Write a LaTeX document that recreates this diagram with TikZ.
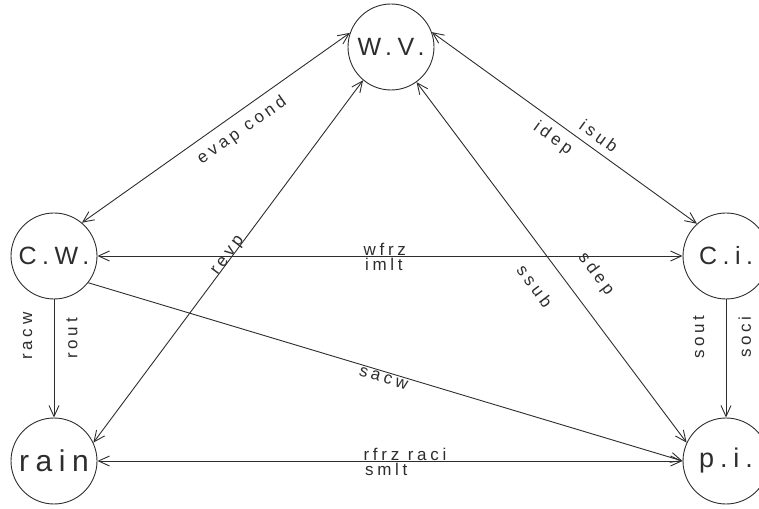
\documentclass[tikz,border=0pt]{standalone}
\usepackage{fontspec}
\usetikzlibrary{arrows.meta}
\newfontfamily\plotfont[LetterSpace=22]{Liberation Sans}
\definecolor{ink}{RGB}{45,45,45}

\begin{document}
\begin{tikzpicture}[x=1pt,y=1pt,>={Straight Barb[length=11pt,width=10pt]},
  store/.style={circle,draw=ink,line width=.9pt,minimum size=86pt,inner sep=0pt,
    text=ink,font=\plotfont\fontsize{25}{30}\selectfont},
  flux/.style={draw=ink,line width=.9pt},
  rate/.style={text=ink,font=\plotfont\fontsize{17}{20}\selectfont}]
  \useasboundingbox (0,0) rectangle (759,508);
  \node[store] (wv) at (391,461) {W.V.};
  \node[store] (cw) at (54,252) {C.W.};
  \node[store] (ci) at (726,252) {C.i.};
  \node[store,font=\plotfont\fontsize{30}{34}\selectfont] (rain) at (54,47) {rain};
  \node[store,font=\plotfont\fontsize{27}{32}\selectfont] (pi) at (726,47) {p.i.};
  \draw[flux,<->] (cw.50) -- node[rate,sloped,below,inner sep=9pt,pos=.56] {evap\ cond} (wv.161);
  \draw[flux,<->] (wv.20) -- node[rate,sloped,below,inner sep=7pt,pos=.49] {idep}
    node[rate,sloped,above,inner sep=7pt,pos=.6] {isub} (ci.132);
  \draw[flux,<->] (rain.25) -- node[rate,sloped,anchor=base,pos=.51] {revp} (wv.230);
  \draw[flux,<->] (wv.-54) -- node[rate,sloped,below,inner sep=21pt,pos=.52] {ssub}
    node[rate,sloped,above,inner sep=20pt,pos=.58] {sdep} (pi.155);
  \draw[flux,<->] (cw.east) -- node[rate,anchor=base west,inner sep=0pt,pos=.454] {wfrz}
    node[rate,anchor=north west,inner sep=1.5pt,pos=.454] {imlt} (ci.west);
  \draw[flux,->] (cw.-38) -- node[rate,sloped,below,inner sep=1.5pt,pos=.5] {sacw} (pi.west);
  \draw[flux,->] (cw.south) -- node[rate,xshift=-22pt,rotate=90,anchor=base,inner sep=0pt,pos=.31] {racw}
    node[rate,xshift=12pt,rotate=90,anchor=north,inner sep=0pt,pos=.33] {rout} (rain.north);
  \draw[flux,->] (ci.south) -- node[rate,xshift=-22pt,rotate=90,anchor=base,inner sep=0pt,pos=.32] {sout}
    node[rate,xshift=12pt,rotate=90,anchor=north,inner sep=0pt,pos=.32] {soci} (pi.north);
  \draw[flux,<->] (rain.east) -- node[rate,anchor=base west,inner sep=0pt,pos=.454] {rfrz\ raci}
    node[rate,anchor=north west,inner sep=1.5pt,pos=.454] {smlt} (pi.west);
\end{tikzpicture}
\end{document}
